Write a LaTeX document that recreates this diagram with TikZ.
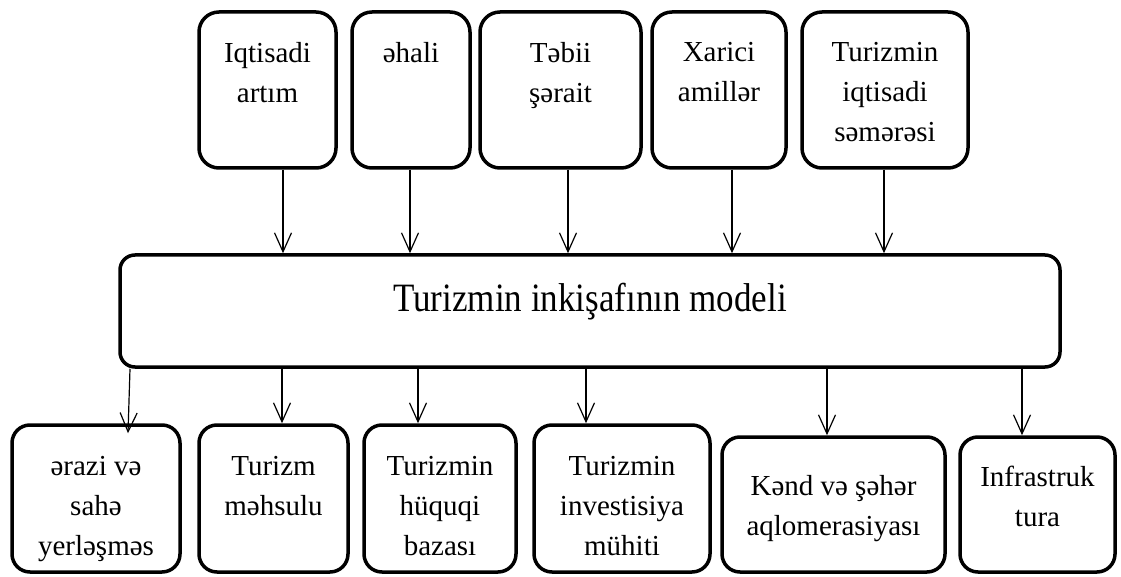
\documentclass[tikz,border=0pt]{standalone}
\usepackage{fontspec}
\usepackage{graphicx}
\setmainfont{Liberation Serif}
\usetikzlibrary{arrows.meta, positioning}
\tikzstyle{factor} = [rectangle, rounded corners=20pt, draw=black, line width=3.5pt, minimum height=156pt, inner sep=0pt]
\tikzstyle{model} = [rectangle, rounded corners=15pt, draw=black, line width=3.5pt, minimum width=940pt, minimum height=112pt, inner sep=0pt]
\tikzstyle{result} = [rectangle, rounded corners=18pt, draw=black, line width=3.5pt, inner sep=0pt]
\tikzstyle{txt} = [anchor=north, align=center, inner sep=0pt, font=\fontsize{29}{40}\selectfont]
\tikzstyle{arrow} = [line width=1.2pt, -{Straight Barb[length=19pt,width=17pt]}]

\begin{document}
\begin{tikzpicture}[x=1pt, y=-1pt]
		\useasboundingbox (0,0) rectangle (1121,577);
		% factors
		\node [factor, minimum width=137pt, label={[txt, yshift=-31.5pt]north:{Iqtisadi\\artım}}] 				(iqt) 		at (267.5,90) {};
		\node [factor, minimum width=118pt, label={[txt, yshift=-31.5pt]north:{əhali}}] 						(ehali) 	at (411,90) {};
		\node [factor, minimum width=161pt, label={[txt, yshift=-31.5pt]north:{Təbii\\şərait}}] 				(tebii) 	at (560.5,90) {};
		\node [factor, minimum width=134pt, label={[txt, yshift=-31.5pt]north:{Xarici\\amillər}}] 				(xarici) 	at (719,90) {};
		\node [factor, minimum width=166pt, label={[txt, yshift=-31.5pt]north:{Turizmin\\iqtisadi\\səmərəsi}}] 	(semere) 	at (885,90) {};
		% model
		\node [model, label={[txt, yshift=-29.5pt, font=\fontsize{35}{44}\selectfont]north:{\scalebox{1}[1.15]{Turizmin inkişafının modeli}}}] (model) at (590,311) {};
		% results
		\node [result, minimum width=168pt, minimum height=147pt, label={[txt, yshift=-32.5pt]north:{ərazi və\\sahə\\yerləşməs}}] 				(erazi) 	at (96,498.5) {};
		\node [result, minimum width=149pt, minimum height=147pt, label={[txt, yshift=-32.5pt]north:{Turizm\\məhsulu}}] 						(mehsul) 	at (273.5,498.5) {};
		\node [result, minimum width=152pt, minimum height=147pt, label={[txt, yshift=-32.5pt]north:{Turizmin\\hüquqi\\bazası}}] 				(huquq) 	at (440,498.5) {};
		\node [result, minimum width=176pt, minimum height=147pt, label={[txt, yshift=-32.5pt]north:{Turizmin\\investisiya\\mühiti}}] 		(invest) 	at (622,498.5) {};
		\node [result, minimum width=223pt, minimum height=135pt, label={[txt, yshift=-40pt]north:{Kənd və şəhər\\aqlomerasiyası}}] 			(aqlom) 	at (833.5,504.5) {};
		\node [result, minimum width=155pt, minimum height=135pt, label={[txt, yshift=-30.5pt]north:{Infrastruk\\tura}}] 						(infra) 	at (1037.5,504.5) {};

		\draw [arrow] (iqt.south -| 283,0) -- (model.north -| 283,0);
		\draw [arrow] (ehali.south -| 410,0) -- (model.north -| 410,0);
		\draw [arrow] (tebii.south -| 568,0) -- (model.north -| 568,0);
		\draw [arrow] (xarici.south -| 732,0) -- (model.north -| 732,0);
		\draw [arrow] (semere.south -| 884,0) -- (model.north -| 884,0);
		\draw [arrow] (model.south -| 130,0) -- ([yshift=-10pt]erazi.north -| 128,0);
		\draw [arrow] (model.south -| 282,0) -- (mehsul.north -| 282,0);
		\draw [arrow] (model.south -| 418,0) -- (huquq.north -| 418,0);
		\draw [arrow] (model.south -| 586,0) -- (invest.north -| 586,0);
		\draw [arrow] (model.south -| 827,0) -- (aqlom.north -| 827,0);
		\draw [arrow] (model.south -| 1022,0) -- (infra.north -| 1022,0);
	\end{tikzpicture}
\end{document}
